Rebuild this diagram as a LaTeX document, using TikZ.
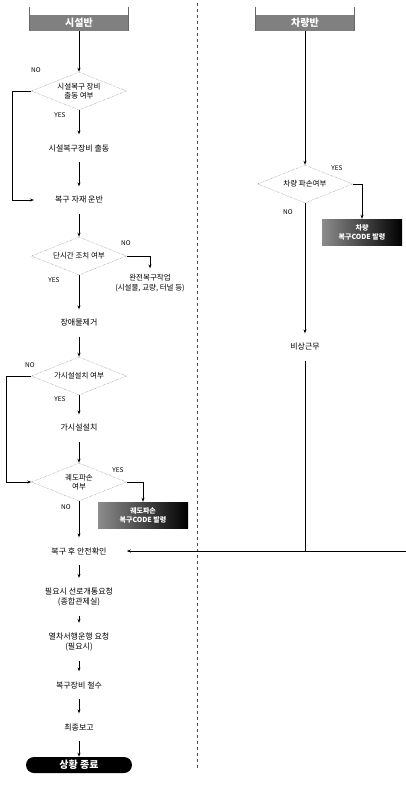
\documentclass[tikz,border=0pt]{standalone}
\usepackage{fontspec}
\setmainfont{Noto Sans CJK KR}
\usetikzlibrary{arrows.meta,shapes.geometric,shapes.misc}
\tikzset{
  >={Stealth[length=4pt,width=3pt]},
  flow/.style={->,line width=0.8pt,draw=black},
  stepbox/.style={align=center,font=\fontsize{8}{10}\selectfont,inner xsep=2pt,inner ysep=0pt,outer ysep=10pt},
  decision/.style={diamond,aspect=2.5,draw=black!60,densely dotted,inner sep=0pt,
    minimum width=95pt,minimum height=38pt,align=center,font=\fontsize{7.5}{9.5}\selectfont},
  head/.style={fill=black!50,text=white,minimum width=98pt,minimum height=16pt,inner sep=0pt,
    font=\fontsize{10}{12}\selectfont\bfseries},
  alarm/.style={left color=black!45,right color=black,text=white,align=center,minimum height=26pt,
    inner sep=1pt,font=\fontsize{7}{9}\selectfont\bfseries},
  stopbox/.style={rounded rectangle,fill=black,text=white,minimum width=106pt,minimum height=16pt,
    inner sep=0pt,font=\fontsize{10}{12}\selectfont\bfseries},
  tag/.style={font=\fontsize{6.5}{7}\selectfont,inner sep=1pt},
}
\begin{document}
\begin{tikzpicture}[x=1pt,y=-1pt]
  \useasboundingbox (0,0) rectangle (406,787);
  \draw[dashed,black!70] (197,3) -- (197,770);
  % facilities team
  \node[head] (hl) at (79,23) {시설반};
  \draw[black!60,thick] ([yshift=8pt]hl.north west) -- (hl.south west)
    ([yshift=8pt]hl.north east) -- (hl.south east);
  \node[decision] (d1) at (79,91) {시설복구 장비\\출동 여부};
  \node[stepbox] (s1) at (79,148) {시설복구장비 출동};
  \node[stepbox] (s2) at (79,200) {복구 자재 운반};
  \node[decision] (d2) at (79,256) {단시간 조치 여부};
  \node[stepbox,outer ysep=6pt,font=\fontsize{7.5}{9.5}\selectfont] (fw) at (150,283) {완전복구작업\\(시설물, 교량, 터널 등)};
  \node[stepbox] (s3) at (79,323) {장애물제거};
  \node[decision] (d3) at (79,376) {가시설설치 여부};
  \node[stepbox] (s4) at (79,428) {가시설설치};
  \node[decision] (d4) at (79,482) {궤도파손\\여부};
  \node[alarm,minimum width=90pt] (cb1) at (143,515) {궤도파손\\복구CODE 발령};
  \node[stepbox] (sc) at (79,551) {복구 후 안전확인};
  \node[stepbox] (s5) at (79,597) {필요시 선로개통요청\\(종합관제실)};
  \node[stepbox] (s6) at (79,642) {열차서행운행 요청\\(필요시)};
  \node[stepbox] (s7) at (79,685) {복구장비 철수};
  \node[stepbox] (s8) at (79,727) {최종보고};
  \node[stopbox] (tm) at (79,765) {상황 종료};
  \node[tag] (n1) at (36,70) {NO};
  \node[tag] (y1) at (60,115) {YES};
  \node[tag] (n2) at (126,243) {NO};
  \node[tag] (y2) at (54,280) {YES};
  \node[tag] (n3) at (30,365) {NO};
  \node[tag] (y3) at (60,399) {YES};
  \node[tag] (y4) at (118,470) {YES};
  \node[tag] (n4) at (66,507) {NO};
  \draw[flow] (hl) -- (d1);
  \draw[flow] (d1) -- (s1);
  \draw[flow] (s1) -- (s2);
  \draw[flow] (d1.west) -- ++(-19,0) |- ([xshift=-19pt]s2.west);
  \draw[flow] (s2) -- (d2);
  \draw[flow] (d2.east) -| (fw.north);
  \draw[flow] (d2) -- (s3);
  \draw[flow] (s3) -- (d3);
  \draw[flow] (d3) -- (s4);
  \draw[flow] (d3.west) -- ++(-25,0) |- (d4.west);
  \draw[flow] (s4) -- (d4);
  \draw[flow] (d4.east) -| (cb1.north);
  \draw[flow] (d4) -- (sc);
  \draw[flow] (sc) -- (s5);
  \draw[flow] (s5) -- (s6);
  \draw[flow] (s6) -- (s7);
  \draw[flow] (s7) -- (s8);
  \draw[flow] (s8) -- (tm);
  % vehicle team
  \node[head] (hr) at (305,23) {차량반};
  \draw[black!60,thick] ([yshift=8pt]hr.north west) -- (hr.south west)
    ([yshift=8pt]hr.north east) -- (hr.south east);
  \node[decision] (dv) at (305,184) {차량 파손여부};
  \node[alarm,minimum width=80pt] (cb2) at (362,232) {차량\\복구CODE 발령};
  \node[stepbox] (em) at (305,347) {비상근무};
  \node[tag] (y5) at (337,168) {YES};
  \node[tag] (n5) at (288,212) {NO};
  \coordinate (redge) at (406,551);
  \draw[flow] (hr) -- (dv);
  \draw[flow] (dv.east) -| (cb2.north);
  \draw[flow] (dv) -- (em);
  \draw[line width=0.8pt] (em) -- (em |- sc);
  \draw[flow] (redge) -- ([xshift=18pt]sc.east);
\end{tikzpicture}
\end{document}
